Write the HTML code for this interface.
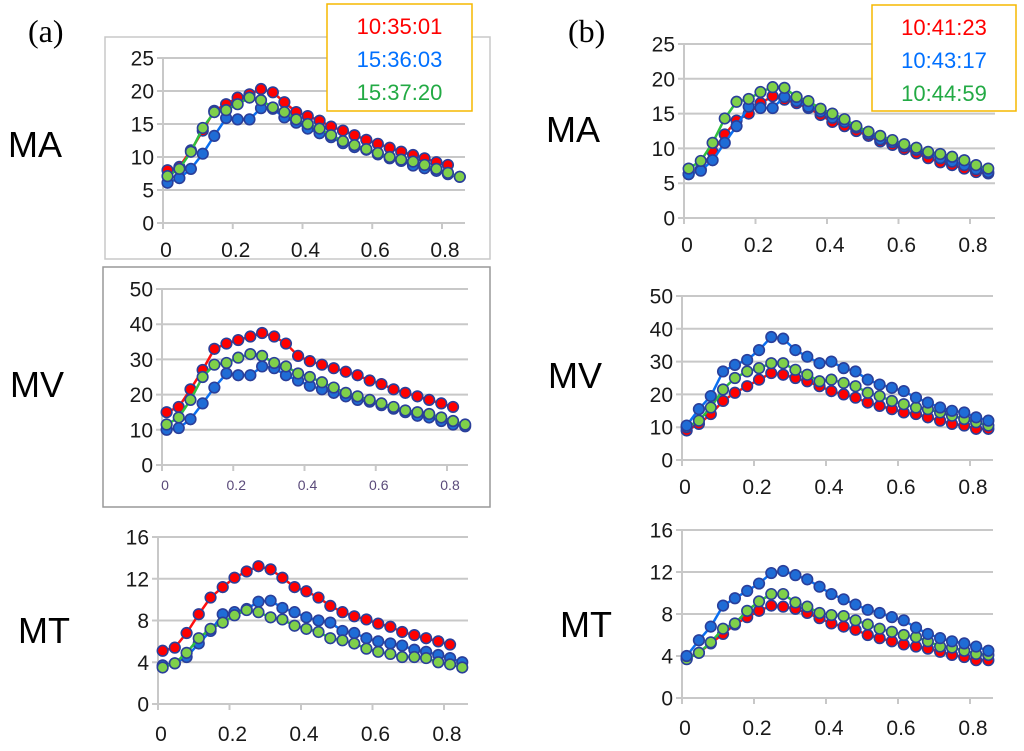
<!DOCTYPE html>
<html><head><meta charset="utf-8"><style>
html,body{margin:0;padding:0;background:#fff;}
svg{display:block;font-family:"Liberation Sans",sans-serif;}
</style></head><body>
<svg id="fig" width="1024" height="751" viewBox="0 0 1024 751">
<rect x="105" y="37" width="385" height="222" fill="none" stroke="#c8c8c8" stroke-width="1.5"/>
<rect x="103" y="267" width="387" height="240" fill="none" stroke="#999" stroke-width="1.5"/>
<text x="28" y="42" font-family="Liberation Serif,serif" font-size="32">(a)</text>
<text x="568" y="42" font-family="Liberation Serif,serif" font-size="32">(b)</text>
<text x="8" y="157" font-size="36">MA</text>
<text x="10" y="397" font-size="36">MV</text>
<text x="18" y="643" font-size="36">MT</text>
<text x="546" y="142" font-size="36">MA</text>
<text x="548" y="388" font-size="36">MV</text>
<text x="560" y="637" font-size="36">MT</text>
</svg>
<script>
const xTicks = [0, 0.2, 0.4, 0.6, 0.8];
const xTickLabels = ["0", "0.2", "0.4", "0.6", "0.8"];
const xValues = [0.013,0.047,0.080,0.114,0.147,0.181,0.214,0.248,0.281,0.315,0.348,0.382,0.415,0.449,0.482,0.516,0.549,0.583,0.616,0.650,0.683,0.717,0.750,0.784,0.817,0.851];
const yTicksMA = [0,5,10,15,20,25];
const yTicksMV = [0,10,20,30,40,50];
const yTicksMT = [0,4,8,12,16];

const aMA_red = [8,8.5,11,14,17,18,19,19.5,20.3,19.8,18.3,16.8,16.2,15.5,14.6,14,13.3,12.6,12,11.4,10.8,10.3,9.8,9.2,8.8];
const aMA_blue = [6.1,6.8,8.2,10.5,13.2,15.9,15.7,15.7,17.4,17.3,16,15.2,14.3,13.6,13,12.1,11.5,11.1,10.4,9.8,9.4,8.7,8.3,7.9,7.4,7];
const aMA_green = [7.1,8.2,10.8,14.4,16.8,17.1,18,19,18.6,17.5,16.8,15.7,15,14.3,13.3,12.4,11.8,11.2,10.6,10,9.6,9.3,8.8,8.2,7.6,7];

const aMV_red = [15,16.5,21.5,27,33,34.5,35.5,36.5,37.5,36.5,34.5,31,29.5,28.5,27.5,26.5,25.5,24,23,21.5,20.5,19.5,18.5,17.5,16.5];
const aMV_blue = [10,10.5,13,17.5,22,26,25.5,25.5,28,27.5,25.5,24,22.5,21.5,20.5,19.5,18.5,18,17,16,15,14,13.5,12.5,11.5,11];
const aMV_green = [11.5,13.5,18.5,25,28.5,29,30.5,31.5,31,29,28,26,25,23.5,22,20.5,19.5,18.5,17.5,16.5,15.5,15,14.5,13.5,12.5,11.5];

const aMT_red = [5.1,5.4,6.8,8.6,10.2,11.2,12.1,12.7,13.2,12.9,12.1,11.2,10.8,10.2,9.4,8.8,8.4,8.1,7.7,7.4,6.9,6.6,6.3,6,5.7];
const aMT_blue = [3.7,3.9,4.5,5.8,7,8.6,8.8,9.1,9.8,9.9,9.2,8.8,8.3,8,7.8,7,6.8,6.3,6,5.8,5.6,5.2,5,4.7,4.4,4];
const aMT_green = [3.5,3.9,4.9,6.3,7.2,7.8,8.5,9,8.8,8.3,8.1,7.5,7.2,6.9,6.3,6.1,5.8,5.3,5,4.8,4.5,4.5,4.4,4,3.8,3.5];

const bMA_red = [6.3,7,9.5,12,14,15,16.5,17.5,17,16.5,15.8,14.8,13.8,13.2,12.5,11.8,11,10.5,9.9,9.3,8.6,8,7.6,7.1,6.6,6.4];
const bMA_blue = [6.3,6.8,8.3,10.8,13.2,16,15.8,15.8,17.4,16.8,16,15.3,14.4,13.8,13,12.1,11.3,10.9,10.3,9.8,9.3,8.6,8.1,7.6,7,6.6];
const bMA_green = [7.1,8.2,10.8,14.3,16.7,17.1,18.1,18.8,18.7,17.4,16.8,15.7,15,14.2,13.2,12.4,11.8,11.2,10.6,10.1,9.5,9.2,8.8,8.3,7.6,7.1];

const bMV_red = [9,11,14,18,20.5,22.5,24.5,26.5,26,25,24,22.5,21,20,19,17.5,16.5,15.5,14.5,14,13,12,11,10.5,9.5,9.5];
const bMV_blue = [10.5,15.5,19.5,27,29,30.5,33.5,37.5,37,33.5,31.5,29.5,30,28,27,24.5,23,22,21,19,17.5,16,15,14.5,13,12];
const bMV_green = [10,12,16,21.5,25,27,28,29.5,29.5,27.5,26,24,24.5,23.5,22.5,20.5,19.5,18,17,16,15.5,14.5,13.5,12.5,11.5,10.5];

const bMT_red = [3.8,4.3,5.2,6.1,7,7.7,8.3,8.8,8.7,8.5,8.1,7.6,7.1,6.8,6.5,6,5.7,5.4,5.1,4.9,4.7,4.4,4.1,3.9,3.6,3.6];
const bMT_blue = [4,5.5,6.8,8.8,9.5,10.2,10.9,11.9,12.1,11.7,11.3,10.6,9.9,9.4,8.9,8.4,8.1,7.7,7.4,6.7,6.1,5.7,5.4,5.2,4.9,4.5];
const bMT_green = [3.7,4.3,5.3,6.6,7.1,8.3,9.2,9.9,9.9,9.1,8.7,8.1,7.9,7.8,7.4,7,6.6,6.3,6,5.8,5.4,4.9,4.8,4.5,4.2,4.1];

const NS = "http://www.w3.org/2000/svg";
const svg = document.getElementById("fig");
function mk(tag, attrs, parent){
  const e = document.createElementNS(NS, tag);
  for (const k in attrs) e.setAttribute(k, attrs[k]);
  parent.appendChild(e);
  return e;
}
const COL = {red:{line:"#ff1010",fill:"#ff0000"}, blue:{line:"#0a6ef0",fill:"#1f6cd6"}, green:{line:"#2fbf3f",fill:"#7fd04a"}};

function panel(id, g, yTicks, yMax, series, xFont, xColor){
  const grp = mk("g", {}, svg);
  
  
  const xs = v => g.x0 + (g.x8 - g.x0) * v / 0.8;
  const ys = v => g.y0 - (g.y0 - g.yT) * v / yMax;
  yTicks.forEach(t => {
    const gl = mk("line", {x1:g.x0-6, x2:g.xr, y1:ys(t), y2:ys(t), stroke:"#c8c8c8", "stroke-width":2}, grp);
    
    
    const tl = mk("text", {x:g.x0-9, y:ys(t)+7.5, "text-anchor":"end", "font-size":21, fill:"#1a1a1a"}, grp);
    tl.textContent = t;
    
    
  });
  mk("line", {x1:g.x0, x2:g.x0, y1:g.yT, y2:g.y0+5, stroke:"#c8c8c8", "stroke-width":2}, grp);
  xTicks.forEach((t, i) => {
    mk("line", {x1:xs(t), x2:xs(t), y1:g.y0, y2:g.y0+6, stroke:"#c8c8c8", "stroke-width":2}, grp);
    const tl = mk("text", {x:xs(t)+3, y:g.y0+g.xlOff, "text-anchor":"middle", "font-size":xFont, fill:xColor}, grp);
    tl.textContent = xTickLabels[i];
    
    
  });
  series.forEach(s => {
    const vals = s.vals;
    const pts = vals.map((v, i) => xs(xValues[i]) + "," + ys(v)).join(" ");
    const pl = mk("polyline", {points:pts, fill:"none", stroke:COL[s.c].line, "stroke-width":2.5}, grp);
    
    
    vals.forEach((v, i) => {
      const c = mk("circle", {cx:xs(xValues[i]), cy:ys(v), r:5.3, fill:COL[s.c].fill, stroke:"#2a3f9a", "stroke-width":1.6}, grp);
      
      
    });
  });
}
panel("chart-a-ma", {x0:163, x8:442, xr:465, y0:223, yT:58, xlOff:34}, yTicksMA, 25,
  [{c:"red",vals:aMA_red},{c:"blue",vals:aMA_blue},{c:"green",vals:aMA_green}], 21, "#1a1a1a");
panel("chart-a-mv", {x0:162, x8:447, xr:468, y0:465, yT:289, xlOff:25}, yTicksMV, 50,
  [{c:"red",vals:aMV_red},{c:"blue",vals:aMV_blue},{c:"green",vals:aMV_green}], 14, "#5a4a7a");
panel("chart-a-mt", {x0:158, x8:444, xr:468, y0:704, yT:537, xlOff:37}, yTicksMT, 16,
  [{c:"red",vals:aMT_red},{c:"blue",vals:aMT_blue},{c:"green",vals:aMT_green}], 21, "#1a1a1a");
panel("chart-b-ma", {x0:684, x8:970, xr:995, y0:218, yT:44, xlOff:34}, yTicksMA, 25,
  [{c:"red",vals:bMA_red},{c:"blue",vals:bMA_blue},{c:"green",vals:bMA_green}], 21, "#1a1a1a");
panel("chart-b-mv", {x0:682, x8:970, xr:993, y0:460, yT:296, xlOff:34}, yTicksMV, 50,
  [{c:"red",vals:bMV_red},{c:"green",vals:bMV_green},{c:"blue",vals:bMV_blue}], 21, "#1a1a1a");
panel("chart-b-mt", {x0:682, x8:970, xr:993, y0:698, yT:530, xlOff:37}, yTicksMT, 16,
  [{c:"red",vals:bMT_red},{c:"green",vals:bMT_green},{c:"blue",vals:bMT_blue}], 21, "#1a1a1a");

function legend(id, x, y, w, h, labels){
  const g = mk("g", {}, svg);
  
  
  mk("rect", {x:x, y:y, width:w, height:h, fill:"#fff", stroke:"#f5b800", "stroke-width":1.5}, g);
  const cols = ["#ff0000", "#0070ff", "#22aa44"];
  labels.forEach((l, i) => {
    const t = mk("text", {x:x + w/2, y:y + 30 + 33*i, "text-anchor":"middle", "font-size":22, fill:cols[i]}, g);
    t.textContent = l;
    
    
  });
}
legend("legend-a", 327, 4, 145, 107, ["10:35:01", "15:36:03", "15:37:20"]);
legend("legend-b", 872, 5, 144, 106, ["10:41:23", "10:43:17", "10:44:59"]);
</script>
</body></html>
